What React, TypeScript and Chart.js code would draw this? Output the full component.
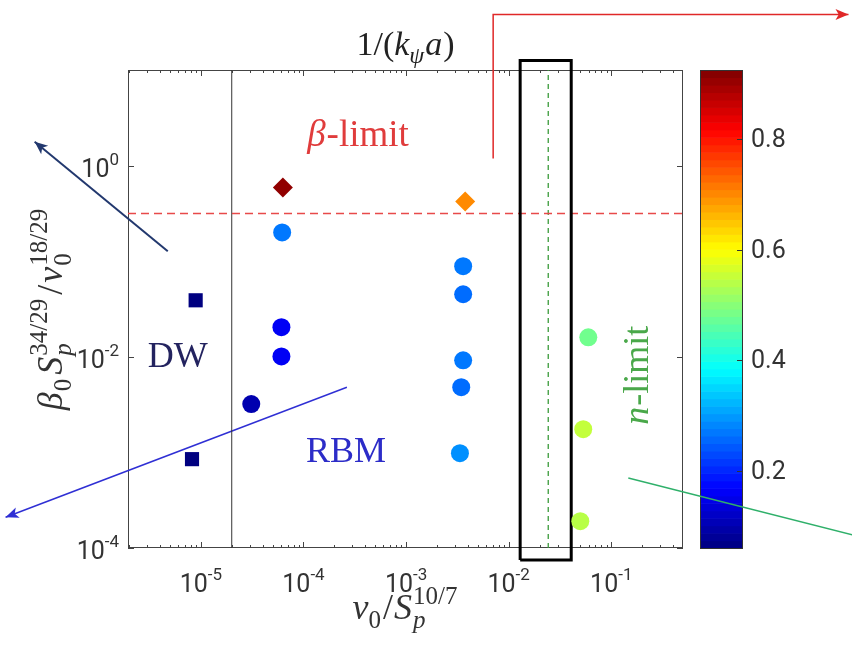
import React, { useEffect, useRef } from 'react';
import { Chart, registerables } from 'chart.js';
Chart.register(...registerables);

// ---------- axes ----------
const xRange = [1.95e-6, 0.5];
const yRange = [1e-4, 10];
const cRange = [0.06, 0.925];

const xTicks = [1e-5, 1e-4, 1e-3, 1e-2, 1e-1];
const xTickExp = ['-5', '-4', '-3', '-2', '-1'];
const yTicks = [1, 1e-2, 1e-4];
const yTickExp = ['0', '-2', '-4'];
const cTicks = [0.2, 0.4, 0.6, 0.8];
const cTickLabels = ['0.2', '0.4', '0.6', '0.8'];

// ---------- data ----------
const squareX = [8.9e-6, 8.2e-6];
const squareY = [0.039, 8.5e-4];
const squareC = [0.06, 0.06];

const circleX = [6.2e-5, 6.1e-5, 6.1e-5, 3.1e-5, 3.6e-3, 3.6e-3, 3.6e-3, 3.45e-3, 3.35e-3, 0.0597, 0.0533, 0.0499];
const circleY = [0.2, 0.0204, 0.0101, 0.0032, 0.0886, 0.0451, 0.0092, 0.00481, 0.00098, 0.016, 0.00175, 0.000191];
const circleC = [0.27, 0.16, 0.16, 0.1, 0.27, 0.26, 0.27, 0.26, 0.29, 0.48, 0.55, 0.54];

const diamondX = [6.3e-5, 3.77e-3];
const diamondY = [0.59, 0.42];
const diamondC = [0.91, 0.7];

const betaLimitY = 0.316;
const gapLineX = 2.0e-5;
const nLimitX = 0.0243;

const boxX = [0.01294, 0.0407];
const boxY = [7.5e-5, 12.6];

// annotation arrows (last point = arrow tip)
const dwArrowX = [4.76e-6, 2.4e-7];
const dwArrowY = [0.127, 1.78];
const rbmArrowX = [2.65e-4, 1.25e-7];
const rbmArrowY = [4.8e-3, 2.1e-4];
const betaArrowX = [7.06e-3, 7.06e-3, 20.5];
const betaArrowY = [1.19, 38, 38];
const nLineX = [0.1466, 22.4];
const nLineY = [5.4e-4, 1.37e-4];

// annotation label anchors
const dwLabel = { x: 5.97e-6, y: 0.0104 };
const rbmLabel = { x: 2.6e-4, y: 1.06e-3 };
const betaLabel = { x: 3.4e-4, y: 2.07 };
const nLabel = { x: 0.175, y: 6.4e-3 };

// ---------- helpers ----------
const clamp = (v: number, a: number, b: number) => Math.max(a, Math.min(b, v));
function jet(t: number) {
  t = clamp(t, 0, 1);
  const r = clamp(1.5 - Math.abs(4 * t - 3), 0, 1);
  const g = clamp(1.5 - Math.abs(4 * t - 2), 0, 1);
  const b = clamp(1.5 - Math.abs(4 * t - 1), 0, 1);
  return `rgb(${Math.round(r * 255)},${Math.round(g * 255)},${Math.round(b * 255)})`;
}
const colorFor = (v: number) => jet((v - cRange[0]) / (cRange[1] - cRange[0]));
const pts = (xs: number[], ys: number[]) => xs.map((x, i) => ({ x, y: ys[i] }));

const MATH = "'Liberation Serif', 'DejaVu Serif', serif";
const SANS = "Roboto, 'Liberation Sans', sans-serif";
const mf = (it: boolean, sz: number) => `${it ? 'italic ' : ''}${sz}px ${MATH}`;

type Seg = { t?: string; it?: boolean; sub?: string; sup?: string; subIt?: boolean; gap?: number };

function drawRich(ctx: any, segs: Seg[], x: number, y: number, base: number, color: string) {
  const small = Math.round(base * 0.7);
  const widths = segs.map((s) => {
    if (s.sub !== undefined || s.sup !== undefined) {
      ctx.font = mf(!!s.subIt, small);
      const w1 = s.sub ? ctx.measureText(s.sub).width : 0;
      ctx.font = mf(false, small);
      const w2 = s.sup ? ctx.measureText(s.sup).width : 0;
      return Math.max(w1, w2) + (s.gap ?? 1);
    }
    ctx.font = mf(!!s.it, base);
    return ctx.measureText(s.t).width + (s.gap ?? 0);
  });
  const total = widths.reduce((a, b) => a + b, 0);
  let cx = x - total / 2;
  ctx.fillStyle = color;
  ctx.textAlign = 'left';
  ctx.textBaseline = 'alphabetic';
  segs.forEach((s, i) => {
    if (s.sub !== undefined || s.sup !== undefined) {
      if (s.sub) {
        ctx.font = mf(!!s.subIt, small);
        ctx.fillText(s.sub, cx, y + base * 0.24);
      }
      if (s.sup) {
        ctx.font = mf(false, small);
        ctx.fillText(s.sup, cx, y - base * 0.42);
      }
    } else {
      ctx.font = mf(!!s.it, base);
      ctx.fillText(s.t, cx, y);
    }
    cx += widths[i];
  });
}

function arrowHead(ctx: any, x0: number, y0: number, x1: number, y1: number, color: string, len = 13, half = 5.5) {
  const a = Math.atan2(y1 - y0, x1 - x0);
  ctx.fillStyle = color;
  ctx.beginPath();
  ctx.moveTo(x1, y1);
  ctx.lineTo(x1 - len * Math.cos(a) + half * Math.sin(a), y1 - len * Math.sin(a) - half * Math.cos(a));
  ctx.lineTo(x1 - len * 0.75 * Math.cos(a), y1 - len * 0.75 * Math.sin(a));
  ctx.lineTo(x1 - len * Math.cos(a) - half * Math.sin(a), y1 - len * Math.sin(a) + half * Math.cos(a));
  ctx.closePath();
  ctx.fill();
}

const xTitle: Seg[] = [{ t: 'ν', it: true }, { sub: '0', gap: 2 }, { t: '/', gap: 1 }, { t: 'S', it: true, gap: 1 }, { sub: 'p', subIt: true, sup: '10/7' }];
const yTitle: Seg[] = [
  { t: 'β', it: true, gap: 1 }, { sub: '0', gap: 4 }, { t: 'S', it: true, gap: 1 }, { sub: 'p', subIt: true, sup: '34/29', gap: 4 },
  { t: '/', gap: 2 }, { t: 'ν', it: true, gap: 1 }, { sub: '0', sup: '18/29' },
];
const topTitle: Seg[] = [{ t: '1/(' }, { t: 'k', it: true }, { sub: 'ψ', subIt: true }, { t: 'a', it: true, gap: 1 }, { t: ')' }];
const betaText: Seg[] = [{ t: 'β', it: true, gap: 1 }, { t: '-limit' }];
const nText: Seg[] = [{ t: 'n', it: true, gap: 1 }, { t: '-limit' }];

const decor = {
  id: 'decor',
  beforeDatasetsDraw(chart: any) {
    const { ctx, chartArea: a, scales } = chart;
    const xs = scales.x, ys = scales.y, cs = scales.c;
    ctx.save();
    // colorbar
    const cbL = a.right + 17, cbW = 42, n = 64;
    for (let i = 0; i < n; i++) {
      const v0 = cRange[0] + (i / n) * (cRange[1] - cRange[0]);
      const v1 = cRange[0] + ((i + 1) / n) * (cRange[1] - cRange[0]);
      const y0 = cs.getPixelForValue(v0), y1 = cs.getPixelForValue(v1);
      ctx.fillStyle = jet((i + 0.5) / n);
      ctx.fillRect(cbL, y1, cbW, y0 - y1 + 0.6);
    }
    ctx.strokeStyle = '#333';
    ctx.lineWidth = 1;
    ctx.strokeRect(cbL + 0.5, a.top + 0.5, cbW, a.bottom - a.top);
    ctx.font = `25px ${SANS}`;
    ctx.fillStyle = '#333';
    ctx.textAlign = 'left';
    ctx.textBaseline = 'middle';
    cTicks.forEach((v, i) => {
      const py = Math.round(cs.getPixelForValue(v)) + 0.5;
      ctx.beginPath();
      ctx.moveTo(cbL + cbW, py);
      ctx.lineTo(cbL + cbW - 5, py);
      ctx.stroke();
      ctx.fillText(cTickLabels[i], cbL + cbW + 9, py + 1);
    });

    // frame
    ctx.strokeStyle = '#444';
    ctx.lineWidth = 1;
    ctx.strokeRect(a.left + 0.5, a.top + 0.5, a.right - a.left - 1, a.bottom - a.top - 1);
    // x ticks
    ctx.beginPath();
    const tickX = (v: number, len: number) => {
      const px = Math.round(xs.getPixelForValue(v)) + 0.5;
      ctx.moveTo(px, a.bottom);
      ctx.lineTo(px, a.bottom - len);
      ctx.moveTo(px, a.top);
      ctx.lineTo(px, a.top + len);
    };
    xTicks.forEach((v) => tickX(v, 6));
    for (let e = -6; e <= -1; e++) {
      for (let m = 2; m <= 9; m++) {
        const v = m * Math.pow(10, e);
        if (v > xRange[0] && v < xRange[1]) tickX(v, 3);
      }
    }
    yTicks.forEach((v) => {
      const py = Math.round(ys.getPixelForValue(v)) + 0.5;
      ctx.moveTo(a.left, py);
      ctx.lineTo(a.left + 6, py);
      ctx.moveTo(a.right, py);
      ctx.lineTo(a.right - 6, py);
    });
    ctx.stroke();

    // tick labels
    ctx.fillStyle = '#333';
    ctx.textBaseline = 'alphabetic';
    ctx.textAlign = 'left';
    const big = `25px ${SANS}`, sm = `17px ${SANS}`;
    xTicks.forEach((v, i) => {
      const px = xs.getPixelForValue(v);
      ctx.font = big;
      const w1 = ctx.measureText('10').width;
      ctx.font = sm;
      const w2 = ctx.measureText(xTickExp[i]).width;
      const s = px - (w1 + w2) / 2;
      ctx.font = big;
      ctx.fillText('10', s, a.bottom + 44);
      ctx.font = sm;
      ctx.fillText(xTickExp[i], s + w1, a.bottom + 32);
    });
    yTicks.forEach((v, i) => {
      const py = ys.getPixelForValue(v);
      ctx.font = big;
      const w1 = ctx.measureText('10').width;
      ctx.font = sm;
      const w2 = ctx.measureText(yTickExp[i]).width;
      const s = a.left - 9 - w1 - w2;
      ctx.font = big;
      ctx.fillText('10', s, py + 11);
      ctx.font = sm;
      ctx.fillText(yTickExp[i], s + w1, py - 1);
    });
    ctx.restore();
  },
  afterDatasetsDraw(chart: any) {
    const { ctx, chartArea: a, scales } = chart;
    const xs = scales.x, ys = scales.y;
    const P = (x: number, y: number) => [xs.getPixelForValue(x), ys.getPixelForValue(y)];
    ctx.save();
    // arrow heads
    const heads: [number[], number[], string][] = [
      [dwArrowX, dwArrowY, '#22386e'],
      [rbmArrowX, rbmArrowY, '#2f2fd4'],
      [betaArrowX, betaArrowY, '#e02828'],
    ];
    heads.forEach(([X, Y, c]) => {
      const k = X.length - 1;
      const [x0, y0] = P(X[k - 1], Y[k - 1]);
      const [x1, y1] = P(X[k], Y[k]);
      arrowHead(ctx, x0, y0, x1, y1, c);
    });
    // titles
    drawRich(ctx, topTitle, (a.left + a.right) / 2, a.top - 15, 34, '#222');
    drawRich(ctx, xTitle, (a.left + a.right) / 2, a.bottom + 71, 36, '#333');
    ctx.save();
    ctx.translate(a.left - 66, (a.top + a.bottom) / 2);
    ctx.rotate(-Math.PI / 2);
    drawRich(ctx, yTitle, 0, 0, 36, '#333');
    ctx.restore();
    // annotations
    let [px, py] = P(dwLabel.x, dwLabel.y);
    drawRich(ctx, [{ t: 'DW' }], px, py + 12, 36, '#23235f');
    [px, py] = P(rbmLabel.x, rbmLabel.y);
    drawRich(ctx, [{ t: 'RBM' }], px, py + 12, 36, '#2c2cc8');
    [px, py] = P(betaLabel.x, betaLabel.y);
    drawRich(ctx, betaText, px, py + 11, 37, '#e03c3c');
    [px, py] = P(nLabel.x, nLabel.y);
    ctx.save();
    ctx.translate(px, py);
    ctx.rotate(-Math.PI / 2);
    drawRich(ctx, nText, 0, 12, 36, '#4aa84a');
    ctx.restore();
    ctx.restore();
  },
};

export default function App() {
  const ref = useRef<HTMLCanvasElement>(null);
  useEffect(() => {
    const lineDs = (data: any[], color: string, width: number, dash: number[] = []) => ({
      data,
      showLine: true,
      borderColor: color,
      borderWidth: width,
      borderDash: dash,
      pointRadius: 0,
      fill: false,
      clip: false,
    });
    const chart = new Chart(ref.current as HTMLCanvasElement, {
      type: 'scatter',
      data: {
        datasets: [
          {
            data: pts(diamondX, diamondY),
            pointStyle: 'rectRot',
            pointRadius: 10,
            backgroundColor: diamondC.map(colorFor),
            borderWidth: 0,
          },
          {
            data: pts(circleX, circleY),
            pointStyle: 'circle',
            pointRadius: 9,
            backgroundColor: circleC.map(colorFor),
            borderWidth: 0,
          },
          {
            data: pts(squareX, squareY),
            pointStyle: 'rect',
            pointRadius: 10,
            backgroundColor: squareC.map(colorFor),
            borderWidth: 0,
          },
          lineDs(
            [
              { x: boxX[0], y: boxY[0] },
              { x: boxX[1], y: boxY[0] },
              { x: boxX[1], y: boxY[1] },
              { x: boxX[0], y: boxY[1] },
              { x: boxX[0], y: boxY[0] },
            ],
            '#000',
            3
          ),
          lineDs([{ x: xRange[0], y: betaLimitY }, { x: xRange[1], y: betaLimitY }], '#e84a4a', 1.5, [8, 5]),
          lineDs([{ x: nLimitX, y: yRange[0] }, { x: nLimitX, y: yRange[1] }], '#3a9a3a', 1.3, [5, 4]),
          lineDs([{ x: gapLineX, y: yRange[0] }, { x: gapLineX, y: yRange[1] }], '#333', 1),
          lineDs(pts(dwArrowX, dwArrowY), '#22386e', 2),
          lineDs(pts(rbmArrowX, rbmArrowY), '#2f2fd4', 1.5),
          lineDs(pts(betaArrowX, betaArrowY), '#e02828', 1.5),
          lineDs(pts(nLineX, nLineY), '#2fb06a', 1.5),
        ] as any,
      },
      options: {
        animation: false,
        responsive: false,
        events: [],
        layout: { padding: { left: 128, right: 169, top: 70, bottom: 104 } },
        plugins: { legend: { display: false }, tooltip: { enabled: false } },
        scales: {
          x: { type: 'logarithmic', min: xRange[0], max: xRange[1], display: false },
          y: { type: 'logarithmic', min: yRange[0], max: yRange[1], display: false },
          c: { type: 'linear', position: 'right', min: cRange[0], max: cRange[1], display: false },
        },
      } as any,
      plugins: [decor],
    });
    return () => chart.destroy();
  }, []);
  return (
    <div style={{ position: 'absolute', left: 0, top: 0, width: 852, height: 652, background: '#fff' }}>
      <canvas ref={ref} width={852} height={652} style={{ display: 'block' }} />
    </div>
  );
}
